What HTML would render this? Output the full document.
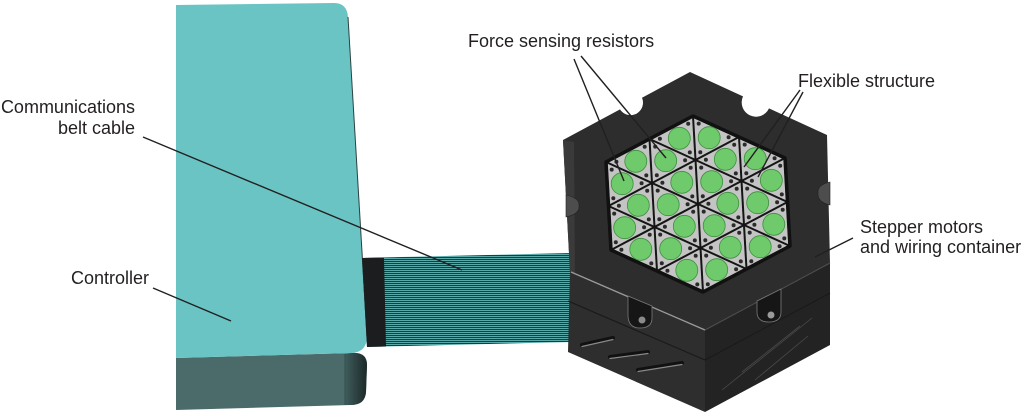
<!DOCTYPE html>
<html>
<head>
<meta charset="utf-8">
<style>
  html, body { margin: 0; padding: 0; background: #ffffff; }
  body { width: 1024px; height: 413px; overflow: hidden; }
  svg { display: block; }
  text { font-family: "Liberation Sans", Arial, sans-serif; font-size: 18px; fill: #231f20; }
</style>
</head>
<body>
<svg width="1024" height="413" viewBox="0 0 1024 413" xmlns="http://www.w3.org/2000/svg">
  <defs>
    <pattern id="hatch" patternUnits="userSpaceOnUse" width="6" height="2">
      <rect x="0" y="0" width="6" height="2" fill="#263838"/>
      <rect x="0" y="0" width="6" height="1" fill="#5aa9a9"/>
    </pattern>
    <linearGradient id="sideGrad" x1="0" y1="0" x2="1" y2="0">
      <stop offset="0" stop-color="#3f5d5c"/>
      <stop offset="1" stop-color="#1c2828"/>
    </linearGradient>
    <g id="up">
      <circle cx="-8.9" cy="14.5" r="2" fill="#2a2a2a"/>
      <circle cx="-10.5" cy="-14.1" r="2" fill="#2a2a2a"/>
      <circle cx="19.4" cy="-0.4" r="2" fill="#2a2a2a"/>
      <circle cx="0" cy="0" r="11" fill="#6fca6c" stroke="#3d8f3d" stroke-width="0.8"/>
    </g>
    <g id="dn">
      <circle cx="8.9" cy="-14.5" r="2" fill="#2a2a2a"/>
      <circle cx="10.5" cy="14.1" r="2" fill="#2a2a2a"/>
      <circle cx="-19.4" cy="0.4" r="2" fill="#2a2a2a"/>
      <circle cx="0" cy="0" r="11" fill="#6fca6c" stroke="#3d8f3d" stroke-width="0.8"/>
    </g>
  </defs>

  <!-- Controller -->
  <path d="M176,358 L352,353 Q367,352 367,365 L366,392 Q365,405 351,405 L176,410 Z" fill="#4a6b6a"/>
  <path d="M345,354 L352,353 Q367,352 367,365 L366,392 Q365,405 351,405 L345,405 Z" fill="url(#sideGrad)"/>
  <line x1="345" y1="354" x2="345" y2="405" stroke="#33504f" stroke-width="1"/>
  <path d="M176,5 L334,3 Q347,3 348,17 L367,336 Q367,352 352,353 L176,358 Z" fill="#6ac4c4"/>
  <path d="M348,17 L367,336" stroke="#2c4040" stroke-width="1" fill="none"/>

  <!-- Belt cable -->
  <path d="M362,258 L572,253 L572,342 L367,347 Z" fill="url(#hatch)"/>
  <path d="M362,258 L384,257.5 L386,346.5 L367,347 Z" fill="#1b1d1f"/>

  <!-- Box: side faces -->
  <path d="M570,272 L705,330 L705,412 L568,352 Z" fill="#2e2e2e"/>
  <path d="M705,330 L830,263 L830,345 L705,412 Z" fill="#232323"/>
  <line x1="568" y1="301" x2="705" y2="360" stroke="#1a1a1a" stroke-width="1.2"/>
  <line x1="705" y1="360" x2="830" y2="293" stroke="#1a1a1a" stroke-width="1"/>
  <!-- slots -->
  <g stroke-linecap="round">
    <line x1="582" y1="345" x2="613" y2="338" stroke="#111" stroke-width="4"/>
    <line x1="582" y1="346.5" x2="613" y2="339.5" stroke="#8a8a8a" stroke-width="1.2"/>
    <line x1="610" y1="357" x2="648" y2="352" stroke="#111" stroke-width="4"/>
    <line x1="610" y1="358.5" x2="648" y2="353.5" stroke="#8a8a8a" stroke-width="1.2"/>
    <line x1="638" y1="370" x2="682" y2="363" stroke="#111" stroke-width="4"/>
    <line x1="638" y1="371.5" x2="682" y2="364.5" stroke="#8a8a8a" stroke-width="1.2"/>
  </g>
  <!-- faint scratches on right face -->
  <g stroke="#4a4a4a" stroke-width="0.8">
    <line x1="722" y1="390" x2="812" y2="318"/>
    <line x1="742" y1="372" x2="800" y2="326"/>
    <line x1="755" y1="380" x2="808" y2="336"/>
  </g>

  <!-- Box: top face -->
  <path d="M563,140 L620,109.4 A12.5,12.5 0 0 0 642,97.7 L690,72 L743,96.4 A14.3,14.3 0 0 0 769,108.4 L827,135 L830,263 L705,330 L570,272 Z" fill="#2d2d2d"/>
  <path d="M563,140 L570,272 L575,274 L574,142 Z" fill="#3a3a3a"/>
  <line x1="571" y1="272" x2="705" y2="330" stroke="#9a9a9a" stroke-width="1.3"/>
  <line x1="705" y1="330" x2="830" y2="263" stroke="#4e4e4e" stroke-width="1"/>
  <!-- side recesses -->
  <path d="M566,195 Q580,198 579,206 Q580,214 566,217 Z" fill="#4d4d4d" stroke="#222" stroke-width="0.6"/>
  <path d="M830,182 Q817,185 818,193 Q817,202 830,205 Z" fill="#4d4d4d" stroke="#222" stroke-width="0.6"/>
  <!-- holes on lid edge -->
  <path d="M628,296 L628,315 Q628,328 640,328 Q652,328 652,318 L652,306 Z" fill="#161616" stroke="#7a7a7a" stroke-width="0.8"/>
  <circle cx="642" cy="320" r="3.5" fill="#8a8a8a"/>
  <path d="M757,301 L757,312 Q757,322 769,322 Q781,322 781,312 L781,289 Z" fill="#161616" stroke="#7a7a7a" stroke-width="0.8"/>
  <circle cx="771" cy="315" r="3.5" fill="#9a9a9a"/>

  <!-- Sensor grid -->
  <polygon points="693,116 785,158 790,246 703,292 611,250 606,162" fill="#c4c4c4" stroke="#111" stroke-width="3.5" stroke-linejoin="round"/>
  <g>
    <use href="#up" x="716.7" y="269.7"/>
    <use href="#up" x="760.2" y="246.7"/>
    <use href="#up" x="670.7" y="248.7"/>
    <use href="#up" x="714.2" y="225.7"/>
    <use href="#up" x="757.7" y="202.7"/>
    <use href="#up" x="624.7" y="227.7"/>
    <use href="#up" x="668.2" y="204.7"/>
    <use href="#up" x="711.7" y="181.7"/>
    <use href="#up" x="755.2" y="158.7"/>
    <use href="#up" x="622.2" y="183.7"/>
    <use href="#up" x="665.7" y="160.7"/>
    <use href="#up" x="709.2" y="137.7"/>
    <use href="#dn" x="686.8" y="270.3"/>
    <use href="#dn" x="730.3" y="247.3"/>
    <use href="#dn" x="773.8" y="224.3"/>
    <use href="#dn" x="640.8" y="249.3"/>
    <use href="#dn" x="684.3" y="226.3"/>
    <use href="#dn" x="727.8" y="203.3"/>
    <use href="#dn" x="771.3" y="180.3"/>
    <use href="#dn" x="638.3" y="205.3"/>
    <use href="#dn" x="681.8" y="182.3"/>
    <use href="#dn" x="725.3" y="159.3"/>
    <use href="#dn" x="635.8" y="161.3"/>
    <use href="#dn" x="679.3" y="138.3"/>
  </g>
  <g stroke="#151515" stroke-width="2">
    <line x1="657" y1="271" x2="649.5" y2="139"/>
    <line x1="703" y1="292" x2="693" y2="116"/>
    <line x1="746.5" y1="269" x2="739" y2="137"/>
    <line x1="657" y1="271" x2="787.5" y2="202"/>
    <line x1="611" y1="250" x2="785" y2="158"/>
    <line x1="608.5" y1="206" x2="739" y2="137"/>
    <line x1="608.5" y1="206" x2="746.5" y2="269"/>
    <line x1="606" y1="162" x2="790" y2="246"/>
    <line x1="649.5" y1="139" x2="787.5" y2="202"/>
  </g>
  <polygon points="693,116 785,158 790,246 703,292 611,250 606,162" fill="none" stroke="#111" stroke-width="3" stroke-linejoin="round"/>

  <!-- Leader lines -->
  <g stroke="#231f20" stroke-width="1.4" fill="none">
    <line x1="143" y1="137" x2="462" y2="270"/>
    <line x1="153" y1="288" x2="231" y2="321"/>
    <line x1="574" y1="59" x2="624" y2="181"/>
    <line x1="581" y1="56" x2="666" y2="158"/>
    <line x1="800" y1="90" x2="744" y2="167"/>
    <line x1="803" y1="92" x2="758" y2="177"/>
    <line x1="853" y1="238" x2="815" y2="257"/>
  </g>

  <!-- Labels -->
  <text x="135" y="113" text-anchor="end">Communications</text>
  <text x="135" y="134" text-anchor="end">belt cable</text>
  <text x="71" y="284">Controller</text>
  <text x="468" y="47">Force sensing resistors</text>
  <text x="798" y="87">Flexible structure</text>
  <text x="860" y="233">Stepper motors</text>
  <text x="860" y="253">and wiring container</text>
</svg>
</body>
</html>
